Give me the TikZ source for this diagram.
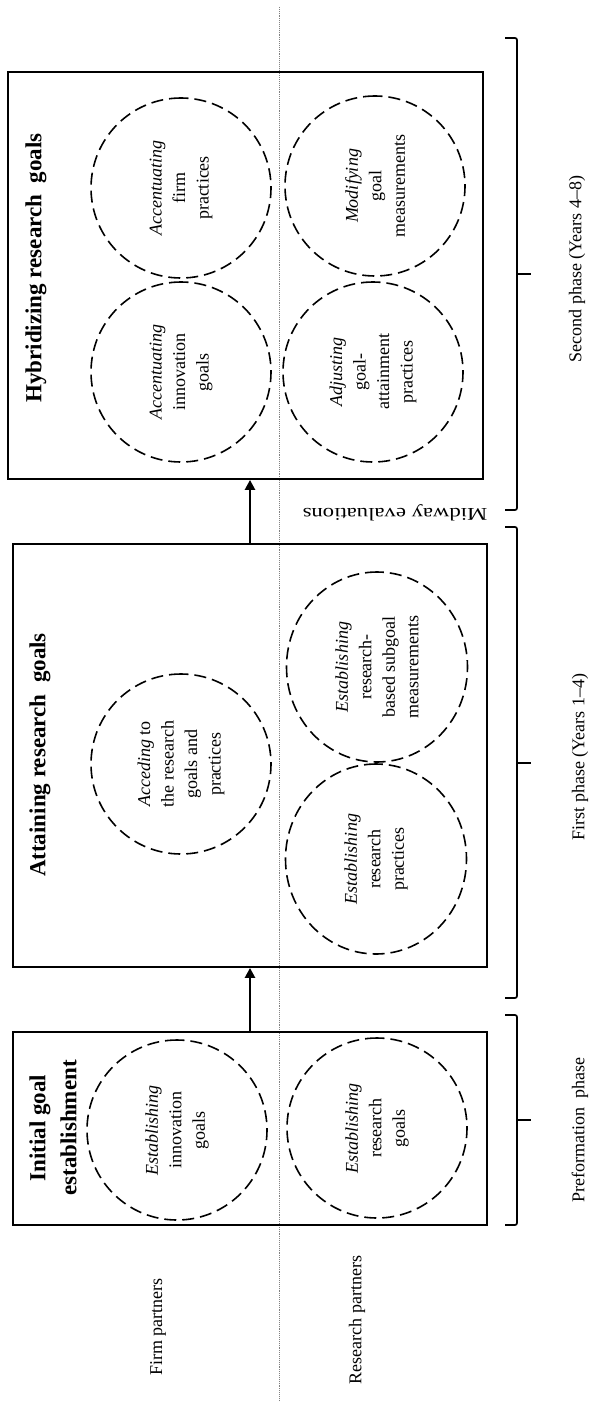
\documentclass[tikz,border=0pt]{standalone}
\usepackage{fontspec}
\setmainfont{Liberation Serif}
\newfontfamily\widefont[FakeStretch=1.26]{Liberation Serif}
\usetikzlibrary{arrows.meta,shapes.geometric}

\begin{document}
\begin{tikzpicture}[x=1pt,y=-1pt,
  stagebox/.style={draw, line width=1.8pt, rectangle, inner sep=0pt},
  activity/.style={ellipse, draw, line width=1.6pt, dash pattern=on 12pt off 6pt,
    align=center, rotate=90, inner sep=0pt, minimum width=180pt, minimum height=180pt,
    font=\fontsize{18}{23.5}\selectfont},
  tall/.style={minimum width=190pt, minimum height=181pt},
  stagetitle/.style={rotate=90, align=center, inner sep=0pt,
    font=\fontsize{23}{31}\selectfont\bfseries},
  sidelabel/.style={rotate=90, inner sep=0pt, font=\fontsize{18}{22}\selectfont},
  flow/.style={line width=2.4pt, -{Triangle[length=10pt,width=10pt]}},
  phasebracket/.style={line width=1.7pt, rounded corners=2pt},
  divider/.style={draw=gray, line width=0.9pt, densely dotted}
]
\useasboundingbox (0,0) rectangle (592,1402);

% divider between firm and research partners
\coordinate (divtop) at (279,7);
\coordinate (divbot) at (279,1402);
\draw[divider] (divtop) -- (divbot);

% stage boxes
\node[stagebox, minimum width=474pt, minimum height=193pt] (initial) at (250,1128.5) {};
\node[stagebox, minimum width=474pt, minimum height=423pt] (attain) at (250,755.5) {};
\node[stagebox, minimum width=475pt, minimum height=407pt] (hybrid) at (245.5,275.5) {};

% stage titles
\node[stagetitle] (t1) at (53,1128) {Initial goal\\establishment};
\node[stagetitle] (t2) at (40,755) {Attaining research\ \ goals};
\node[stagetitle] (t3) at (36,268) {Hybridizing research\ \ goals};

% activities
\node[activity] (c11) at (177,1130) {\textit{Establishing}\\innovation\\goals};
\node[activity] (c12) at (377,1128) {\textit{Establishing}\\research\\goals};
\node[activity] (c21) at (181,764) {\textit{Acceding} to\\the research\\goals and\\practices};
\node[activity, tall] (c22) at (377,667) {\textit{Establishing}\\research-\\based subgoal\\measurements};
\node[activity, tall] (c23) at (376,859) {\textit{Establishing}\\research\\practices};
\node[activity] (c31) at (181,188) {\textit{Accentuating}\\firm\\practices};
\node[activity] (c32) at (181,372) {\textit{Accentuating}\\innovation\\goals};
\node[activity] (c33) at (375,186) {\textit{Modifying}\\goal\\measurements};
\node[activity] (c34) at (373,372) {\textit{Adjusting}\\goal-\\attainment\\practices};

% progression between stages
\draw[flow] (initial.north) -- (attain.south);
\draw[flow] (attain.north) -- (attain.north |- hybrid.south);

% partner labels
\node[sidelabel] (firm) at (158,1327) {Firm partners};
\node[sidelabel] (research) at (357,1320) {Research partners};

% phase brackets: ends, spine and a short tip towards the label
\draw[phasebracket] (505,38) -- (517,38) -- (517,510) -- (505,510);
\draw[line width=1.7pt] (517,274) -- (531,274);
\draw[phasebracket] (505,527) -- (517,527) -- (517,998) -- (505,998);
\draw[line width=1.7pt] (517,763) -- (531,763);
\draw[phasebracket] (505,1015) -- (517,1015) -- (517,1225) -- (505,1225);
\draw[line width=1.7pt] (517,1120) -- (531,1120);

% phase labels
\node[sidelabel] (second) at (577,269) {Second phase (Years 4--8)};
\node[sidelabel] (first) at (580,757) {First phase (Years 1--4)};
\node[sidelabel] (pre) at (580,1130) {Preformation\ \ phase};
\node[rotate=180, inner sep=0pt, font=\fontsize{18}{22}\widefont] (mid) at (395,513) {Midway evaluations};
\end{tikzpicture}
\end{document}
